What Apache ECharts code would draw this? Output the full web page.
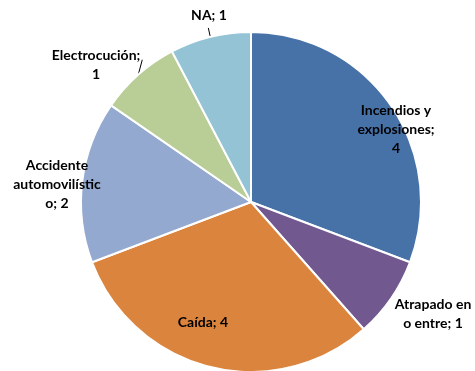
<!DOCTYPE html>
<html>
<head>
<meta charset="utf-8">
<script src="https://cdn.jsdelivr.net/npm/echarts@6/dist/echarts.min.js"></script>
<style>
  html, body { margin: 0; padding: 0; background: #fff; }
  #chart { width: 475px; height: 371px; }
</style>
</head>
<body>
<div id="chart"></div>
<script>
// categories and values, clockwise from 12 o'clock
const categories = ['Incendios y explosiones', 'Atrapado en o entre', 'Caída', 'Accidente automovilístico', 'Electrocución', 'NA'];
const values = [4, 1, 4, 2, 1, 1];
// wrapped label text as shown in the picture
const labelTexts = [
  'Incendios y\nexplosiones;\n4',
  'Atrapado en\no entre; 1',
  'Caída; 4',
  'Accidente\nautomovilístic\no; 2',
  'Electrocución;\n1',
  'NA; 1'
];

const colors = ['#4672A8', '#71588F', '#DB843D', '#93A9CF', '#B9CD96', '#93C3D5'];
const center = [251, 202];
const radius = 170;
// label centres (px)
const labelPos = [[396, 129], [433, 314], [203, 322], [57, 184], [96, 65], [209, 15]];
// leader line end offsets from the slice edge, null = no line
const lineEnd = [null, null, null, null, [4, -15], [-2, -9]];

const total = values.reduce((a, b) => a + b, 0);

// point on the rim at the middle of slice i
const rimPoint = (i) => {
  let before = 0;
  for (let k = 0; k < i; k++) before += values[k];
  const a = ((before + values[i] / 2) / total) * Math.PI * 2;
  return [center[0] + radius * Math.sin(a), center[1] - radius * Math.cos(a)];
};

const chart = echarts.init(document.getElementById('chart'));

const option = {
  animation: false,
  series: [
    {
      type: 'pie',
      center: center,
      radius: [0, radius],
      startAngle: 90,
      clockwise: true,
      itemStyle: {
        borderColor: '#fff',
        borderWidth: 2
      },
      label: {
        show: true,
        position: 'outside',
        color: '#000',
        fontFamily: 'Lato',
        fontWeight: 'bold',
        fontSize: 14,
        lineHeight: 19,
        align: 'center',
        overflow: 'none',
        formatter: (p) => labelTexts[p.dataIndex]
      },
      labelLine: {
        show: true,
        length: 8,
        length2: 0,
        lineStyle: { color: '#000', width: 1 }
      },
      labelLayout: (p) => {
        const i = p.dataIndex;
        const out = {
          x: labelPos[i][0],
          y: labelPos[i][1],
          align: 'center',
          verticalAlign: 'middle'
        };
        if (lineEnd[i]) {
          const s = rimPoint(i);
          out.labelLinePoints = [s, [s[0] + lineEnd[i][0], s[1] + lineEnd[i][1]], [s[0] + lineEnd[i][0], s[1] + lineEnd[i][1]]];
        } else {
          out.labelLinePoints = [[0, 0], [0, 0], [0, 0]];
        }
        return out;
      },
      emphasis: { disabled: true },
      data: categories.map((name, i) => ({
        name: name,
        value: values[i],
        itemStyle: { color: colors[i] }
      }))
    }
  ]
};

chart.setOption(option);
</script>
</body>
</html>
